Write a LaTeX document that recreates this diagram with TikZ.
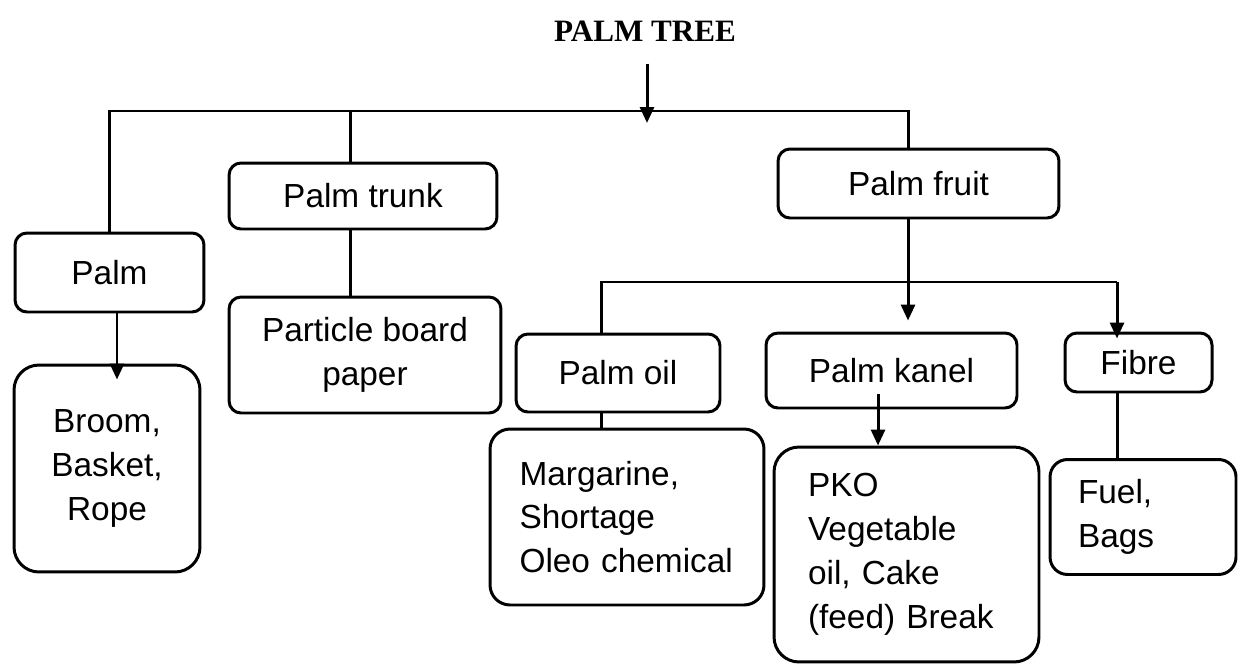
\documentclass[tikz,border=0pt]{standalone}
\usepackage{fontspec}
\setmainfont{Liberation Sans}
\newfontfamily\headfont{Liberation Serif}
\usetikzlibrary{arrows.meta,positioning}

\begin{document}
\begin{tikzpicture}[x=0.02cm, y=-0.02cm, line width=1.7pt,
	box/.style={draw, rounded corners=0.24cm, inner sep=0pt, align=center, font=\fontsize{19}{25}\selectfont},
	bigbox/.style={box, rounded corners=0.5cm},
	arr/.style={-{Triangle[length=0.32cm,width=0.28cm]}}]
		\useasboundingbox (0,0) rectangle (1239,666);
		\node[font=\headfont\bfseries\fontsize{17.7}{20}\selectfont] (tree) at (645,31) {PALM TREE};
		
		\node[box, minimum width=3.78cm, minimum height=1.58cm] (palm) at (109.5,272.5) {Palm};
		\node[box, minimum width=5.36cm, minimum height=1.32cm] (trunk) at (363,196) {Palm trunk};
		\node[box, minimum width=5.62cm, minimum height=1.38cm] (fruit) at (918.5,183.5) {Palm fruit};
		\node[bigbox, minimum width=3.72cm, minimum height=4.14cm] (broom) at (107,468.5) {Broom,\\Basket,\\Rope};
		\node[box, minimum width=5.44cm, minimum height=2.32cm] (particle) at (365,355) {Particle board\\paper};
		\node[box, minimum width=4.08cm, minimum height=1.56cm] (oil) at (618,373) {Palm oil};
		\node[box, rounded corners=0.4cm, align=left, text width=4.3cm, minimum width=5.48cm, minimum height=3.52cm] (marg) at (627,517) {Margarine,\\Shortage\\Oleo chemical};
		\node[box, minimum width=5.02cm, minimum height=1.5cm] (kanel) at (891.5,370.5) {Palm kanel};
		\node[bigbox, align=left, text width=3.94cm, minimum width=5.3cm, minimum height=4.3cm] (pko) at (906.5,554.5) {PKO\\Vegetable\\oil, Cake\\(feed) Break};
		\node[box, minimum width=2.94cm, minimum height=1.18cm] (fibre) at (1138.5,362.5) {Fibre};
		\node[box, rounded corners=0.35cm, align=left, text width=2.6cm, minimum width=3.72cm, minimum height=2.3cm] (fuel) at (1143,517) {Fuel,\\Bags};
		
		\coordinate (hub) at (647,111);
		\coordinate (split) at (601,282);
		\coordinate (splitr) at (1117,282);
		
		\draw[arr, shorten <=0.3cm, shorten >=-0.24cm] (tree.south -| hub) -- (hub);
		\draw (palm.north) |- (hub) -| ([xshift=-0.21cm]fruit.north);
		\draw ([xshift=-0.26cm]trunk.north) -- ([xshift=-0.26cm]trunk.north |- hub);
		\draw ([xshift=-0.26cm]trunk.south) -- ([xshift=-0.26cm]trunk.south |- particle.north);
		\draw[arr, shorten >=-0.32cm] ([xshift=0.15cm]palm.south) -- ([xshift=0.15cm]palm.south |- broom.north);
		\draw[arr, shorten >=0.22cm] ([xshift=-0.21cm]fruit.south) -- ([xshift=-0.21cm]fruit.south |- kanel.north);
		\draw (split |- oil.north) -- (split) -- (splitr);
		\draw[arr, shorten >=-0.14cm] (splitr) -- (splitr |- fibre.north);
		\draw (split |- oil.south) -- (split |- marg.north);
		\draw (splitr |- fibre.south) -- (splitr |- fuel.north);
		\draw[arr, shorten <=-0.3cm] ([xshift=-0.27cm]kanel.south) -- ([xshift=-0.27cm]kanel.south |- pko.north);
	\end{tikzpicture}
\end{document}
